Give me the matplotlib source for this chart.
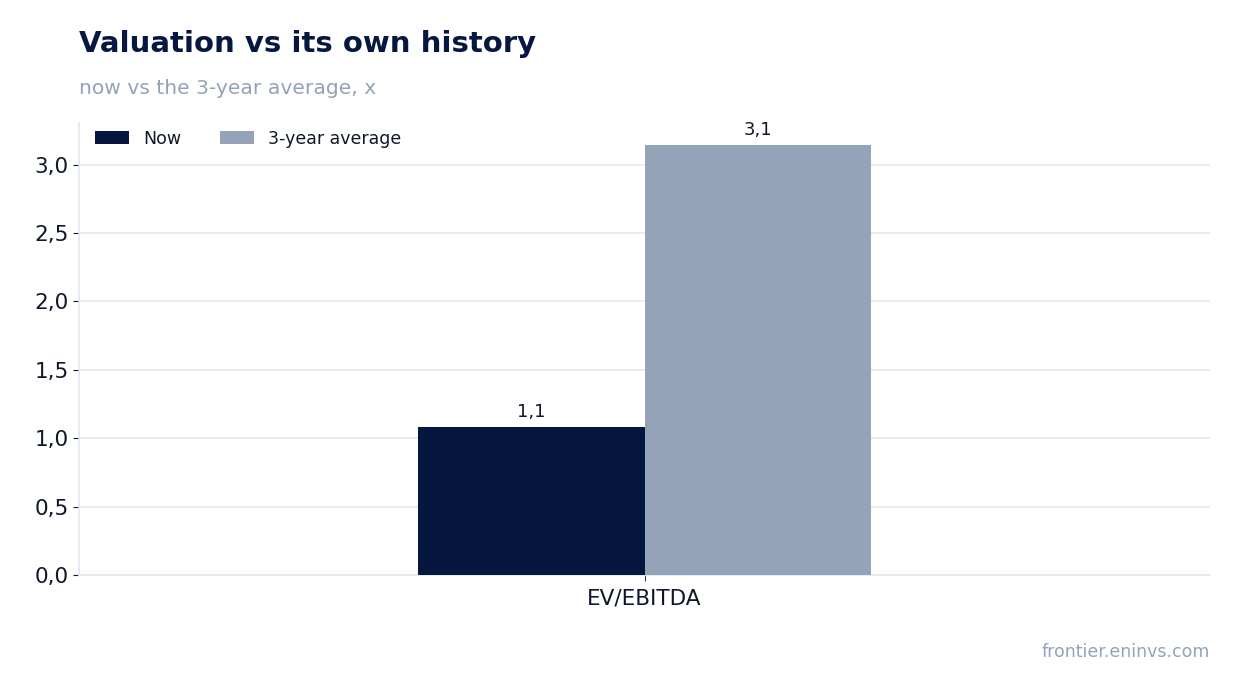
import matplotlib
matplotlib.use("Agg")
import matplotlib.pyplot as plt
import numpy as np

categories = ["EV/EBITDA"]
now_values = [1.085]
avg_values = [3.146]
series_names = ["Now", "3-year average"]
yticks = [0.0, 0.5, 1.0, 1.5, 2.0, 2.5, 3.0]

C_NOW = "#05163F"
C_AVG = "#94A3B8"
C_TEXT = "#0F172A"
C_GRID = "#E2E8F0"

fig = plt.figure(figsize=(12.41, 6.93), dpi=100)
ax = fig.add_axes([79/1241, 118/693, (1210-79)/1241, (575-123)/693])

x = np.arange(len(categories))
w = 0.2
b1 = ax.bar(x - w/2, now_values, w, color=C_NOW, label=series_names[0], zorder=3)
b2 = ax.bar(x + w/2, avg_values, w, color=C_AVG, label=series_names[1], zorder=3)

def fmt(v):
    return f"{v:.1f}".replace(".", ",")

for bars in (b1, b2):
    for r in bars:
        ax.annotate(fmt(r.get_height()), (r.get_x() + r.get_width()/2, r.get_height()),
                    xytext=(0, 4), textcoords="offset points", ha="center", va="bottom",
                    fontsize=13, color=C_TEXT)

ax.set_xlim(-0.5, 0.5)
ax.set_ylim(0, max(avg_values) * 1.05)
ax.set_yticks(yticks)
ax.set_yticklabels([fmt(t) for t in yticks])
ax.set_xticks(x)
ax.set_xticklabels(categories)
ax.tick_params(axis="y", labelsize=15.5, colors=C_TEXT, length=4)
ax.tick_params(axis="x", labelsize=15.5, colors="#334155", labelcolor=C_TEXT, length=4, pad=6)
ax.yaxis.grid(True, color=C_GRID, linewidth=1.2, zorder=0)
ax.set_axisbelow(True)
for s in ["top", "right"]:
    ax.spines[s].set_visible(False)
for s in ["left", "bottom"]:
    ax.spines[s].set_color(C_GRID)
    ax.spines[s].set_linewidth(1.2)

leg = ax.legend(loc="upper left", ncol=2, frameon=False, fontsize=12.5,
                handlelength=2.0, handleheight=0.75, columnspacing=2.2,
                bbox_to_anchor=(0.0, 1.02))
for t in leg.get_texts():
    t.set_color(C_TEXT)

fig.text(79/1241, 1 - 44/693, "Valuation vs its own history", fontsize=21, fontweight="bold",
         color="#061741", va="center", ha="left")
fig.text(79/1241, 1 - 88/693, "now vs the 3-year average, x", fontsize=14.6, color=C_AVG,
         va="center", ha="left")
fig.text(1210/1241, 1 - 652/693, "frontier.eninvs.com", fontsize=12.5, color=C_AVG,
         va="center", ha="right")

fig.savefig("out.png", dpi=100)
